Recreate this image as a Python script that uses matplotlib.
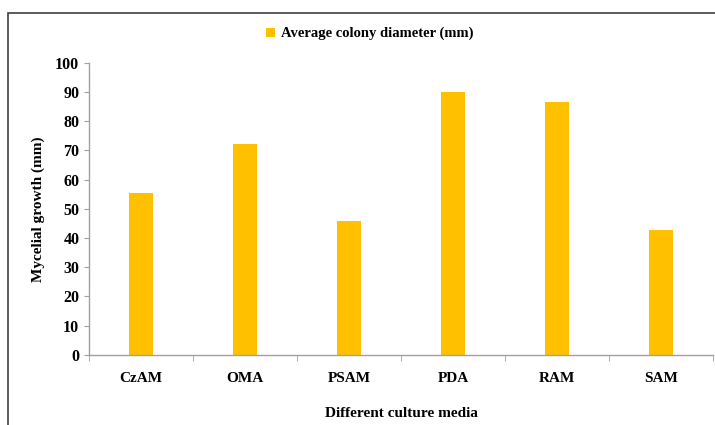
import matplotlib
matplotlib.use('Agg')
import matplotlib.pyplot as plt
from matplotlib.patches import Rectangle
import numpy as np

# data
media = ['CzAM', 'OMA', 'PSAM', 'PDA', 'RAM', 'SAM']
diameter = [55.4, 72.3, 46.0, 90.2, 86.7, 42.9]
y_ticks = [0, 10, 20, 30, 40, 50, 60, 70, 80, 90, 100]

plt.rcParams['font.family'] = ['Liberation Serif', 'DejaVu Serif']
plt.rcParams['font.weight'] = 'bold'

fig = plt.figure(figsize=(7.15, 4.25), dpi=100)
ax = fig.add_axes([0.1245, 0.165, 0.873, 0.687])

x = np.arange(len(media))
ax.bar(x, diameter, width=0.23, color='#FFC000', label='Average colony diameter (mm)')

ax.set_xlim(-0.5, len(media) - 0.5)
ax.set_ylim(0, 100)
ax.set_yticks(y_ticks)
ax.set_yticklabels([str(t) for t in y_ticks], fontsize=11.5, fontweight='bold')
ax.set_xticks(x)
ax.set_xticklabels(media, fontsize=11, fontweight='bold')
ax.set_xticks(np.arange(len(media) + 1) - 0.5, minor=True)
ax.tick_params(axis='x', which='major', length=0, pad=12)
ax.tick_params(axis='x', which='minor', length=4, color='#a0a0a0', direction='out')
ax.tick_params(axis='y', length=3.5, color='#a0a0a0', direction='out', pad=3.5)

for s in ['top', 'right']:
    ax.spines[s].set_visible(False)
for s in ['left', 'bottom']:
    ax.spines[s].set_color('#a0a0a0')
    ax.spines[s].set_linewidth(1.0)

ax.set_ylabel('Mycelial growth (mm)', fontsize=11, fontweight='bold', labelpad=7)
ax.set_xlabel('Different culture media', fontsize=11, fontweight='bold', labelpad=16)

ax.legend(loc='center', bbox_to_anchor=(0.45, 1.1), frameon=False,
          prop={'size': 10.5, 'weight': 'bold'}, handlelength=0.6, handleheight=0.6,
          handletextpad=0.4)

# outer frame (only top and left edges visible in the reference)
fig.patches.append(Rectangle((7.5 / 715, -0.1), 1.2, 1 - 13 / 425 + 0.1,
                             transform=fig.transFigure, fill=False,
                             edgecolor='#404040', linewidth=1.2))

fig.savefig('out.png', dpi=100)
